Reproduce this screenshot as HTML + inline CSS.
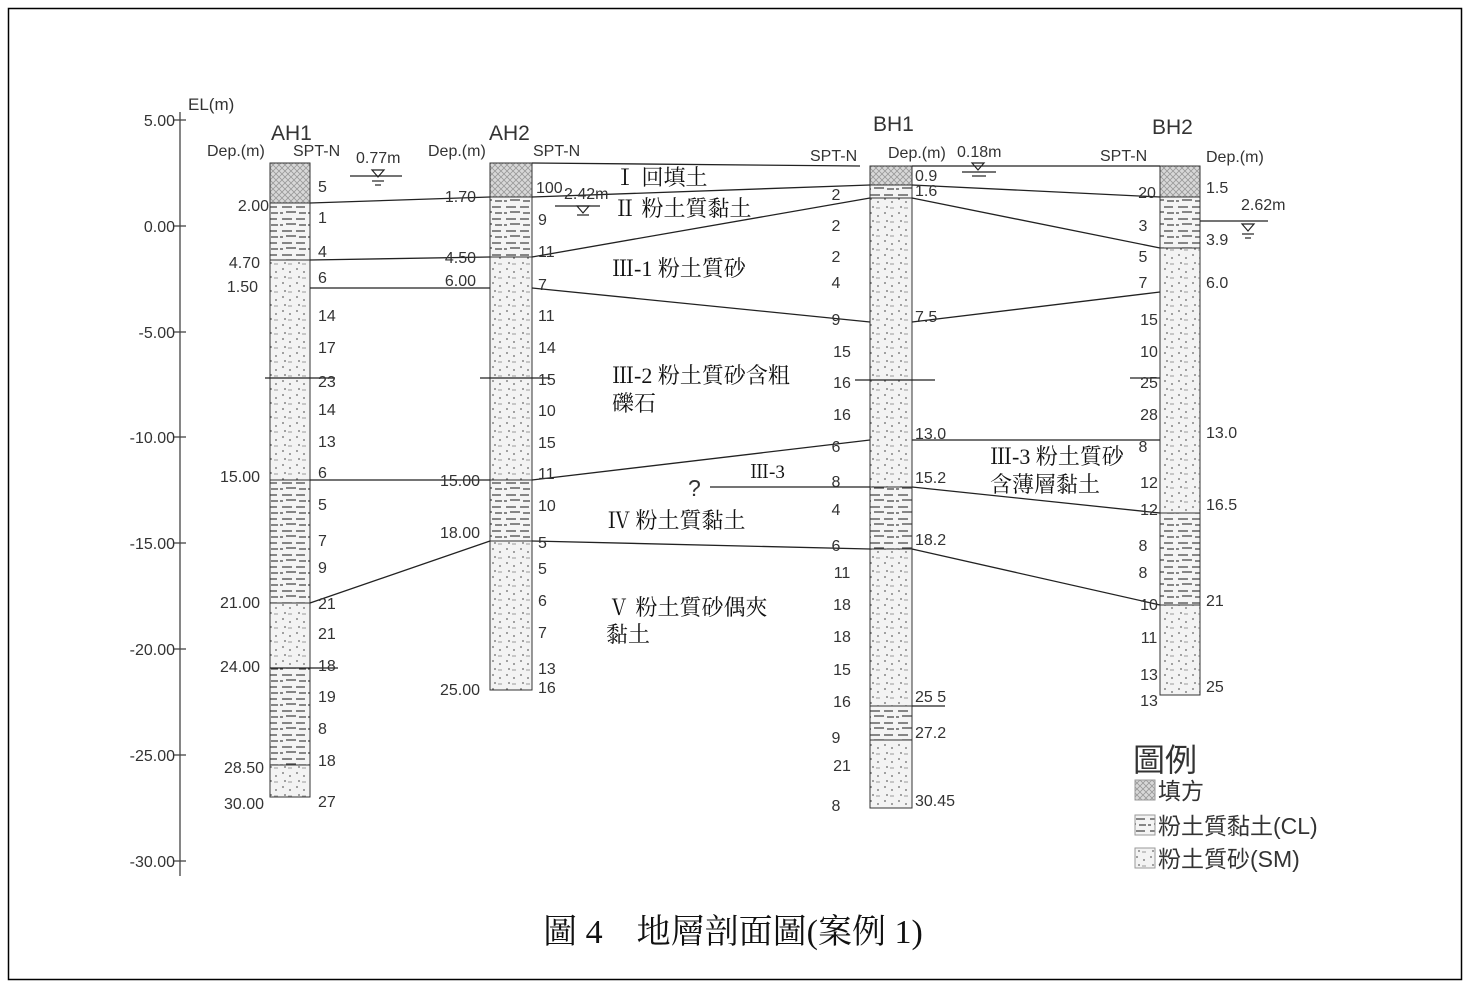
<!DOCTYPE html>
<html><head><meta charset="utf-8"><style>
html,body{margin:0;padding:0;background:#fff}
svg{display:block}
.s{font-family:"Liberation Sans","Noto Sans CJK TC",sans-serif;fill:#333}
.r{font-family:"Liberation Serif","Noto Serif CJK SC",serif;fill:#111}
</style></head><body>
<svg width="1470" height="985" viewBox="0 0 1470 985" xmlns="http://www.w3.org/2000/svg">
<defs>
<pattern id="fill" width="6" height="6" patternUnits="userSpaceOnUse">
<rect width="6" height="6" fill="#d8d8d8"/><path d="M0 0L6 6M6 0L0 6" stroke="#999" stroke-width="0.8"/></pattern>
<pattern id="clay" width="28" height="12" patternUnits="userSpaceOnUse">
<rect width="28" height="12" fill="#f4f4f4"/><path d="M2 3h10M16 3h9M6 8h10M19 9h7M0 9h3" stroke="#444" stroke-width="1.2"/></pattern>
<pattern id="sand" width="14" height="14" patternUnits="userSpaceOnUse">
<rect width="14" height="14" fill="#f3f3f3"/><circle cx="3" cy="3" r="0.9" fill="#666"/><circle cx="10" cy="6" r="0.9" fill="#666"/><circle cx="5" cy="11" r="0.9" fill="#666"/><path d="M8 12h4" stroke="#999"/></pattern>
</defs>
<rect x="8.5" y="8.5" width="1453" height="971" fill="none" stroke="#000" stroke-width="1.5"/>
<g stroke="#444" stroke-width="1.3">
<line x1="180" y1="112" x2="180" y2="876"/>
<line x1="174" y1="120" x2="186" y2="120"/><line x1="174" y1="226" x2="186" y2="226"/><line x1="174" y1="332" x2="186" y2="332"/><line x1="174" y1="437" x2="186" y2="437"/><line x1="174" y1="543" x2="186" y2="543"/><line x1="174" y1="649" x2="186" y2="649"/><line x1="174" y1="755" x2="186" y2="755"/><line x1="174" y1="861" x2="186" y2="861"/>
</g>
<g class="s" font-size="16" text-anchor="end">
<text x="175" y="126">5.00</text><text x="175" y="232">0.00</text><text x="175" y="338">-5.00</text><text x="175" y="443">-10.00</text><text x="175" y="549">-15.00</text><text x="175" y="655">-20.00</text><text x="175" y="761">-25.00</text><text x="175" y="867">-30.00</text>
</g>
<text class="s" x="188" y="110" font-size="17">EL(m)</text>
<g stroke="#333" stroke-width="1">
<rect x="270" y="163" width="40" height="40" fill="url(#fill)"/>
<rect x="270" y="203" width="40" height="57" fill="url(#clay)"/>
<rect x="270" y="260" width="40" height="220" fill="url(#sand)"/>
<rect x="270" y="480" width="40" height="123" fill="url(#clay)"/>
<rect x="270" y="603" width="40" height="65" fill="url(#sand)"/>
<rect x="270" y="668" width="40" height="97" fill="url(#clay)"/>
<rect x="270" y="765" width="40" height="32" fill="url(#sand)"/>
<rect x="490" y="163" width="42" height="34" fill="url(#fill)"/>
<rect x="490" y="197" width="42" height="60" fill="url(#clay)"/>
<rect x="490" y="257" width="42" height="223" fill="url(#sand)"/>
<rect x="490" y="480" width="42" height="61" fill="url(#clay)"/>
<rect x="490" y="541" width="42" height="149" fill="url(#sand)"/>
<rect x="870" y="166" width="42" height="19" fill="url(#fill)"/>
<rect x="870" y="185" width="42" height="13" fill="url(#clay)"/>
<rect x="870" y="198" width="42" height="289" fill="url(#sand)"/>
<rect x="870" y="487" width="42" height="62" fill="url(#clay)"/>
<rect x="870" y="549" width="42" height="157" fill="url(#sand)"/>
<rect x="870" y="706" width="42" height="34" fill="url(#clay)"/>
<rect x="870" y="740" width="42" height="68" fill="url(#sand)"/>
<rect x="1160" y="166" width="40" height="31" fill="url(#fill)"/>
<rect x="1160" y="197" width="40" height="51" fill="url(#clay)"/>
<rect x="1160" y="248" width="40" height="265" fill="url(#sand)"/>
<rect x="1160" y="513" width="40" height="92" fill="url(#clay)"/>
<rect x="1160" y="605" width="40" height="90" fill="url(#sand)"/>
</g>
<g stroke="#222" stroke-width="1.3" fill="none">
<line x1="532" y1="163" x2="860" y2="166"/><line x1="912" y1="166" x2="1160" y2="166"/>
<line x1="310" y1="203" x2="490" y2="197"/><line x1="532" y1="197" x2="870" y2="185"/><line x1="912" y1="185" x2="1160" y2="197"/>
<line x1="310" y1="260" x2="490" y2="257"/><line x1="532" y1="257" x2="870" y2="198"/><line x1="912" y1="198" x2="1160" y2="248"/>
<line x1="310" y1="288" x2="490" y2="288"/><line x1="532" y1="288" x2="870" y2="322"/><line x1="912" y1="322" x2="1160" y2="292"/>
<line x1="310" y1="480" x2="490" y2="480"/><line x1="532" y1="480" x2="870" y2="440"/><line x1="912" y1="440" x2="1160" y2="440"/>
<line x1="710" y1="487" x2="870" y2="487"/><line x1="912" y1="487" x2="1160" y2="513"/>
<line x1="310" y1="603" x2="490" y2="541"/><line x1="532" y1="541" x2="870" y2="549"/><line x1="912" y1="549" x2="1160" y2="605"/>
<line x1="1200" y1="221" x2="1268" y2="221"/>
<line x1="265" y1="378" x2="335" y2="378"/><line x1="480" y1="378" x2="550" y2="378"/><line x1="855" y1="380" x2="935" y2="380"/><line x1="1130" y1="378" x2="1160" y2="378"/>
<line x1="270" y1="668" x2="338" y2="668"/><line x1="912" y1="706" x2="945" y2="706"/>
</g>
<g stroke="#222" fill="none" stroke-width="1.2">
<line x1="350" y1="176" x2="402" y2="176"/><path d="M372 170h12l-6 7z"/><line x1="372" y1="181" x2="384" y2="181"/><line x1="375" y1="185" x2="381" y2="185"/>
<line x1="555" y1="206" x2="600" y2="206"/><path d="M577 206h12l-6 7z"/><line x1="577" y1="215" x2="589" y2="215"/>
<path d="M972 163h12l-6 7z"/><line x1="962" y1="172" x2="996" y2="172"/><line x1="972" y1="176" x2="986" y2="176"/>
<path d="M1242 224h12l-6 7z"/><line x1="1242" y1="234" x2="1254" y2="234"/><line x1="1245" y1="238" x2="1251" y2="238"/>
</g>
<g class="s" fill="#222">
<text x="271" y="140" font-size="21">AH1</text><text x="489" y="140" font-size="21">AH2</text><text x="873" y="131" font-size="21">BH1</text><text x="1152" y="134" font-size="21">BH2</text>
<g font-size="16"><text x="207" y="156">Dep.(m)</text><text x="293" y="156">SPT-N</text><text x="356" y="163">0.77m</text><text x="428" y="156">Dep.(m)</text><text x="533" y="156">SPT-N</text><text x="810" y="161">SPT-N</text><text x="888" y="158">Dep.(m)</text><text x="957" y="157">0.18m</text><text x="1100" y="161">SPT-N</text><text x="1206" y="162">Dep.(m)</text><text x="1241" y="210">2.62m</text><text x="564" y="199">2.42m</text></g>
</g>
<g class="s" font-size="16">
<g text-anchor="start">
<text x="318" y="192">5</text><text x="318" y="223">1</text><text x="318" y="257">4</text><text x="318" y="283">6</text><text x="318" y="321">14</text><text x="318" y="353">17</text><text x="318" y="387">23</text><text x="318" y="415">14</text><text x="318" y="447">13</text><text x="318" y="478">6</text><text x="318" y="510">5</text><text x="318" y="546">7</text><text x="318" y="573">9</text><text x="318" y="609">21</text><text x="318" y="639">21</text><text x="318" y="671">18</text><text x="318" y="702">19</text><text x="318" y="734">8</text><text x="318" y="766">18</text><text x="318" y="807">27</text>
<text x="536" y="193">100</text><text x="538" y="225">9</text><text x="538" y="257">11</text><text x="538" y="290">7</text><text x="538" y="321">11</text><text x="538" y="353">14</text><text x="538" y="385">15</text><text x="538" y="416">10</text><text x="538" y="448">15</text><text x="538" y="479">11</text><text x="538" y="511">10</text><text x="538" y="548">5</text><text x="538" y="574">5</text><text x="538" y="606">6</text><text x="538" y="638">7</text><text x="538" y="674">13</text><text x="538" y="693">16</text>
<text x="915" y="181">0.9</text><text x="915" y="196">1.6</text><text x="915" y="322">7.5</text><text x="915" y="439">13.0</text><text x="915" y="483">15.2</text><text x="915" y="545">18.2</text><text x="915" y="702">25 5</text><text x="915" y="738">27.2</text><text x="915" y="806">30.45</text>
<text x="1206" y="193">1.5</text><text x="1206" y="245">3.9</text><text x="1206" y="288">6.0</text><text x="1206" y="438">13.0</text><text x="1206" y="510">16.5</text><text x="1206" y="606">21</text><text x="1206" y="692">25</text>
</g>
<g text-anchor="end">
<text x="269" y="211">2.00</text><text x="260" y="268">4.70</text><text x="258" y="292">1.50</text><text x="260" y="482">15.00</text><text x="260" y="608">21.00</text><text x="260" y="672">24.00</text><text x="264" y="773">28.50</text><text x="264" y="809">30.00</text>
<text x="476" y="202">1.70</text><text x="476" y="263">4.50</text><text x="476" y="286">6.00</text><text x="480" y="486">15.00</text><text x="480" y="538">18.00</text><text x="480" y="695">25.00</text>
</g>
<g text-anchor="middle">
<text x="836" y="200">2</text><text x="836" y="231">2</text><text x="836" y="262">2</text><text x="836" y="288">4</text><text x="836" y="325">9</text><text x="842" y="357">15</text><text x="842" y="388">16</text><text x="842" y="420">16</text><text x="836" y="452">6</text><text x="836" y="487">8</text><text x="836" y="515">4</text><text x="836" y="551">6</text><text x="842" y="578">11</text><text x="842" y="610">18</text><text x="842" y="642">18</text><text x="842" y="675">15</text><text x="842" y="707">16</text><text x="836" y="743">9</text><text x="842" y="771">21</text><text x="836" y="811">8</text>
<text x="1147" y="198">20</text><text x="1143" y="231">3</text><text x="1143" y="262">5</text><text x="1143" y="288">7</text><text x="1149" y="325">15</text><text x="1149" y="357">10</text><text x="1149" y="388">25</text><text x="1149" y="420">28</text><text x="1143" y="452">8</text><text x="1149" y="488">12</text><text x="1149" y="515">12</text><text x="1143" y="551">8</text><text x="1143" y="578">8</text><text x="1149" y="610">10</text><text x="1149" y="643">11</text><text x="1149" y="680">13</text><text x="1149" y="706">13</text>
</g>
</g>
<g class="r" font-size="22">
<text x="614" y="185">Ⅰ 回填土</text><text x="614" y="216">Ⅱ 粉土質黏土</text><text x="612" y="276">Ⅲ-1 粉土質砂</text>
<text x="612" y="383">Ⅲ-2 粉土質砂含粗</text><text x="612" y="411">礫石</text>
<text x="990" y="464">Ⅲ-3 粉土質砂</text><text x="990" y="492">含薄層黏土</text>
<text x="750" y="478" font-size="19">Ⅲ-3</text>
<text x="608" y="528">Ⅳ 粉土質黏土</text><text x="608" y="615">Ⅴ 粉土質砂偶夾</text><text x="606" y="642">黏土</text>
</g>
<text class="s" x="688" y="496" font-size="23" fill="#111">?</text>
<g class="s" fill="#333">
<text x="1133" y="771" font-size="32">圖例</text>
<rect x="1135" y="780" width="20" height="20" fill="url(#fill)" stroke="#999"/><text x="1158" y="799" font-size="23">填方</text>
<rect x="1135" y="815" width="20" height="20" fill="url(#clay)" stroke="#999"/><text x="1158" y="834" font-size="23">粉土質黏土(CL)</text>
<rect x="1135" y="848" width="20" height="20" fill="url(#sand)" stroke="#999"/><text x="1158" y="867" font-size="23">粉土質砂(SM)</text>
</g>
<text class="r" x="733" y="943" font-size="34" text-anchor="middle" fill="#000">圖 4　地層剖面圖(案例 1)</text>
</svg>
</body></html>
